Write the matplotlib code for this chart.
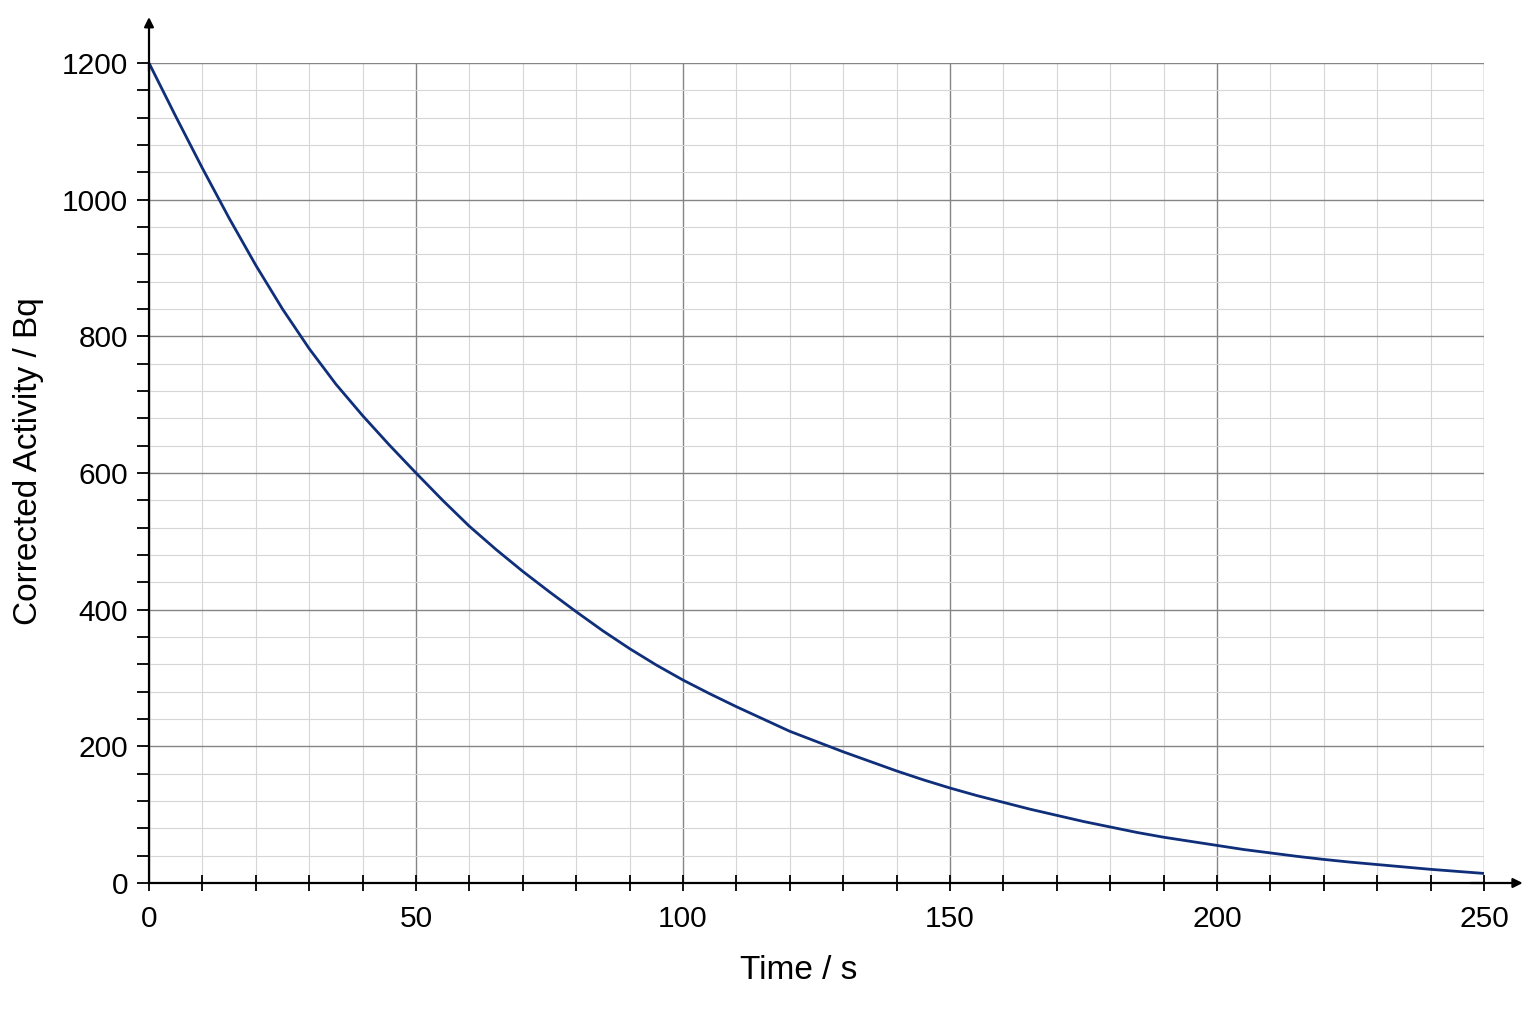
import numpy as np
import matplotlib.pyplot as plt
from matplotlib.ticker import MultipleLocator

# Valores (cada 5 s)
tiempo = list(range(0, 255, 5))
actividad = [1200, 1122, 1046, 973, 904, 840, 782, 730, 684, 641,
             600, 560, 522, 488, 456, 426, 397, 369, 343, 319,
             297, 277, 258, 240, 222, 207, 192, 178, 164, 151,
             139, 128, 118, 108, 99, 90, 82, 74, 67, 61,
             55, 49, 44, 39, 34.5, 30.5, 27, 23.5, 20, 17, 14]

plt.rcParams['font.family'] = ['Liberation Sans', 'DejaVu Sans']

fig = plt.figure(figsize=(15.36, 10.24), dpi=100)
ax = fig.add_axes([149 / 1536, 1 - 883 / 1024, (1484 - 149) / 1536, (883 - 63) / 1024])

ax.plot(tiempo, actividad, color='#0f2f7a', lw=2.0, solid_joinstyle='round',
        solid_capstyle='round', zorder=3)

ax.set_xlim(0, 250)
ax.set_ylim(0, 1200)

ax.xaxis.set_major_locator(MultipleLocator(50))
ax.xaxis.set_minor_locator(MultipleLocator(10))
ax.yaxis.set_major_locator(MultipleLocator(200))
ax.yaxis.set_minor_locator(MultipleLocator(40))

ax.grid(which='major', color='#858585', lw=1.0)
ax.grid(which='minor', color='#d6d6d6', lw=0.8)
ax.set_axisbelow(True)

for s in ['top', 'right']:
    ax.spines[s].set_visible(False)
for s in ['left', 'bottom']:
    ax.spines[s].set_linewidth(1.6)
    ax.spines[s].set_zorder(4)

ax.tick_params(axis='x', which='both', direction='inout', length=11, width=1.3,
               labelsize=21.5, pad=10)
ax.tick_params(axis='y', which='both', direction='out', length=9, width=1.3,
               labelsize=21.5, pad=6)

# flechas de los ejes
ax.annotate('', xy=(0, 1.056), xytext=(0, 0.99), xycoords='axes fraction',
            arrowprops=dict(arrowstyle='-|>', color='black', lw=1.6,
                            mutation_scale=14, shrinkA=0, shrinkB=0))
ax.annotate('', xy=(1.029, 0), xytext=(0.99, 0), xycoords='axes fraction',
            arrowprops=dict(arrowstyle='-|>', color='black', lw=1.6,
                            mutation_scale=14, shrinkA=0, shrinkB=0))

ax.set_xlabel("Time / s", fontsize=24)
ax.set_ylabel("Corrected Activity / Bq", fontsize=24)
ax.xaxis.set_label_coords(0.487, -0.088)
ax.yaxis.set_label_coords(-0.079, 0.515)

fig.savefig("out.png", dpi=100)
